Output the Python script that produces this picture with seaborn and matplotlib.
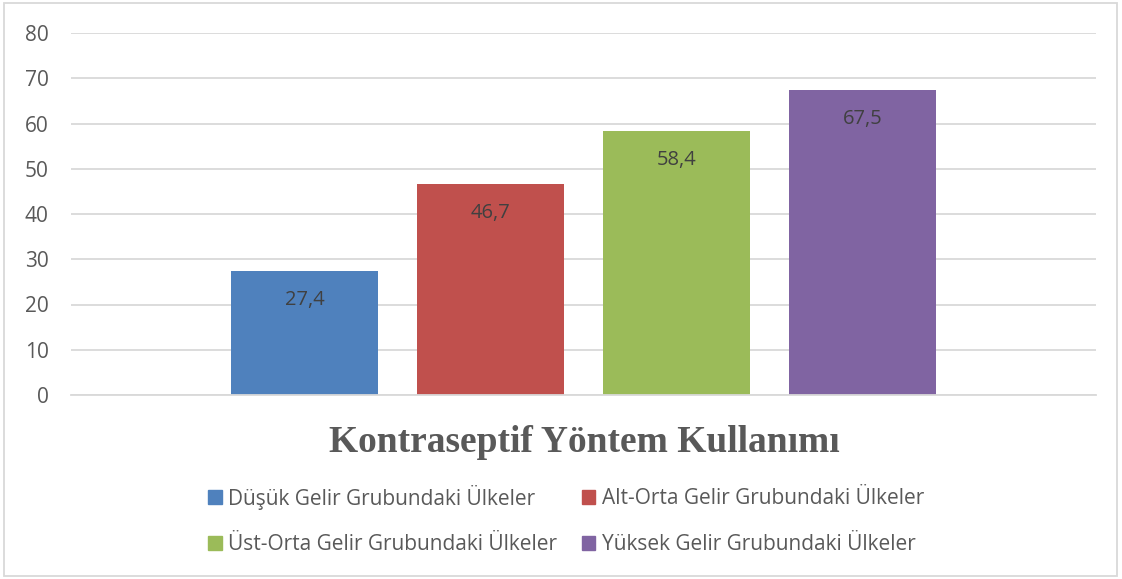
import pandas as pd
import matplotlib.pyplot as plt
import seaborn as sns
from matplotlib.patches import Rectangle

gruplar = ["Düşük Gelir Grubundaki Ülkeler", "Alt-Orta Gelir Grubundaki Ülkeler",
           "Üst-Orta Gelir Grubundaki Ülkeler", "Yüksek Gelir Grubundaki Ülkeler"]
degerler = [27.4, 46.7, 58.4, 67.5]
renkler = ["#4F81BD", "#C0504D", "#9BBB59", "#8064A2"]
baslik = "Kontraseptif Yöntem Kullanımı"
yticks = [0, 10, 20, 30, 40, 50, 60, 70, 80]

df = pd.DataFrame({"grup": gruplar, "deger": degerler})

sns.set_style("white")
plt.rcParams['font.family'] = ['Open Sans', 'DejaVu Sans']

fig = plt.figure(figsize=(11.22, 5.79), dpi=100)
ax = fig.add_axes([71 / 1122, 1 - 395 / 579, 1025 / 1122, 362 / 579])

sns.barplot(data=df, x="grup", y="deger", hue="grup", palette=renkler,
            width=0.79, legend=False, ax=ax, saturation=1, linewidth=0)

ax.set_ylim(0, 80)
ax.set_yticks(yticks)
ax.set_xlim(1.5 - 2.755, 1.5 + 2.755)
ax.set_xticks([])
ax.set_xlabel("")
ax.set_ylabel("")
ax.yaxis.grid(True, color="#d9d9d9", linewidth=1.3)
ax.set_axisbelow(True)
for s in ["top", "right", "left"]:
    ax.spines[s].set_visible(False)
ax.spines["bottom"].set_color("#d9d9d9")
ax.spines["bottom"].set_linewidth(1.3)
ax.tick_params(axis="y", length=0, pad=16, labelsize=15, labelcolor="#595959")

for i, v in enumerate(degerler):
    ax.annotate(f"{v:.1f}".replace(".", ","), xy=(i, v), xytext=(0, -14),
                textcoords="offset points", ha="center", va="top",
                fontsize=14.5, color="#404040")

fig.text(584 / 1122, 1 - 442 / 579, baslik, ha="center", va="center",
         family="Liberation Serif", fontweight="bold", fontsize=27, color="#595959")

handles = [Rectangle((0, 0), 1, 1, color=c) for c in renkler]
sira = [0, 2, 1, 3]
fig.legend([handles[i] for i in sira], [gruplar[i] for i in sira], ncol=2,
           loc="center", bbox_to_anchor=(566 / 1122, 1 - 520 / 579),
           frameon=False, fontsize=15, labelcolor="#595959",
           handlelength=0.65, handleheight=0.65, handletextpad=0.3,
           columnspacing=1.2, labelspacing=1.2)

fig.add_artist(Rectangle((4 / 1122, 3 / 579), 1113 / 1122, 573 / 579,
                         transform=fig.transFigure, fill=False,
                         edgecolor="#d9d9d9", linewidth=1.3))

fig.savefig("out.png", dpi=100)
